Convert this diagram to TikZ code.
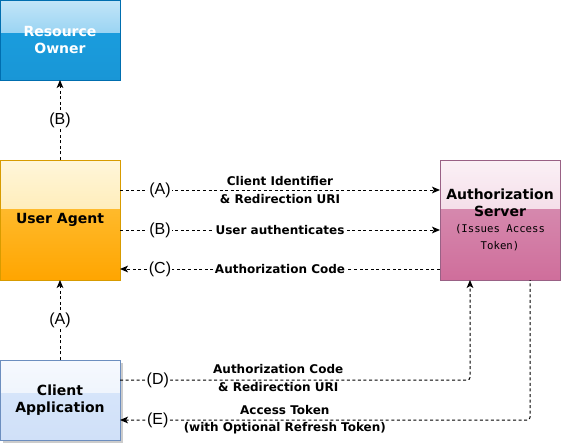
\documentclass[tikz,border=0pt]{standalone}
\usepackage{fontspec}
\setmainfont{DejaVu Sans}
\newfontfamily\tagfont{Liberation Sans}
\newfontfamily\notefont{DejaVu Sans Mono}
\usetikzlibrary{positioning, calc, arrows.meta, shadows}
\definecolor{roline}{HTML}{006EAF}
\definecolor{ualine}{HTML}{D79B00}
\definecolor{asline}{HTML}{996185}
\definecolor{caline}{HTML}{6C8EBF}
\definecolor{rotop}{HTML}{C2E5F8}
\definecolor{romid}{HTML}{62BDEB}
\definecolor{robase}{HTML}{1BA1E2}
\definecolor{robot}{HTML}{1996D6}
\definecolor{uatop}{HTML}{FFF6DA}
\definecolor{uamid}{HTML}{FFE08E}
\definecolor{uabase}{HTML}{FFC849}
\definecolor{uabot}{HTML}{FFA500}
\definecolor{astop}{HTML}{FBF1F6}
\definecolor{asmid}{HTML}{EBC3D6}
\definecolor{asbase}{HTML}{DA9ABA}
\definecolor{asbot}{HTML}{CF6E9B}
\definecolor{catop}{HTML}{F6F9FE}
\definecolor{camid}{HTML}{E6EFFB}
\definecolor{cabase}{HTML}{DAE8FC}
\definecolor{cabot}{HTML}{D0E0F8}
\tikzset{
>={Stealth[length=6pt,width=5pt,inset=1.5pt]}, % small filled heads
node distance=60pt, % gap between the boxes
gloss/.style 2 args={path picture={\shade[top color=#1, bottom color=#2]
  (path picture bounding box.north west) rectangle
  ($(path picture bounding box.south east)!0.6!(path picture bounding box.north east)$);}}, % shiny upper part
party/.style={draw, line width=0.75pt, inner sep=0pt, outer sep=0pt, minimum width=90pt, align=center,
  font=\fontsize{10.5}{12.75}\selectfont\bfseries}, % every box
flow/.style={->, draw, line width=0.75pt, dash pattern=on 2.25pt off 1.9pt}, % dashed connector
tag/.style={fill=white, inner sep=1pt, font=\tagfont\fontsize{12}{14}\selectfont}, % (A), (B) ...
msg/.style={align=center, inner sep=1pt, font=\fontsize{9}{13}\selectfont\bfseries}, % message text
}
\newcommand{\note}[1]{{\notefont\mdseries\fontsize{8}{10.5}\selectfont #1}}
\begin{document}
\begin{tikzpicture}[x=0.75pt, y=-0.75pt]
  \useasboundingbox (0,0) rectangle (561,444);
  \node[party, minimum height=90pt, draw=ualine, top color=uabase, bottom color=uabot,
    gloss={uatop}{uamid}] (ua) at (60,220) {User Agent};
  \node[party, minimum height=60pt, draw=roline, text=white, top color=robase, bottom color=robot,
    gloss={rotop}{romid}, above=of ua] (ro) {Resource\\Owner};
  \node[party, minimum height=90pt, draw=asline, top color=asbase, bottom color=asbot,
    gloss={astop}{asmid}, right=240pt of ua] (as)
    {Authorization\\Server\\[-1pt]\note{(Issues Access}\\\note{Token)}};
  \node[party, minimum height=60pt, draw=caline, top color=cabase, bottom color=cabot,
    gloss={catop}{camid}, below=of ua,
    drop shadow={shadow xshift=2.5pt, shadow yshift=-2.5pt, fill=black!40, opacity=0.5}] (ca) {Client\\Application};
  \path
    (ua.north) edge[flow] node[tag]{(B)} (ro.south)
    (ca.north) edge[flow] node[tag]{(A)} (ua.south)
    ([yshift=22.5pt]ua.east) edge[flow] node[tag, pos=0.125]{(A)} node[msg]{Client Identifier\\\& Redirection URI} ([yshift=22.5pt]as.west)
    ([yshift=-7.5pt]ua.east) edge[flow] node[tag, pos=0.125]{(B)} node[msg, fill=white]{User authenticates} ([yshift=-7.5pt]as.west)
    ([yshift=-36.75pt]as.west) edge[flow] node[tag, pos=0.875]{(C)} node[msg, fill=white]{Authorization Code} ([yshift=-36.75pt]ua.east);
  \draw[flow, rounded corners=2pt] ([yshift=15pt]ca.east) -| node[tag, pos=0.054]{(D)}
    node[msg, pos=0.226, yshift=1.5pt]{Authorization Code\\\& Redirection URI} ([xshift=-22.5pt]as.south);
  \draw[flow, <-, rounded corners=2pt] ([yshift=-15pt]ca.east) -| node[tag, pos=0.046]{(E)}
    node[msg, pos=0.201]{Access Token\\(with Optional Refresh Token)} ([xshift=22.5pt]as.south);
\end{tikzpicture}
\end{document}
